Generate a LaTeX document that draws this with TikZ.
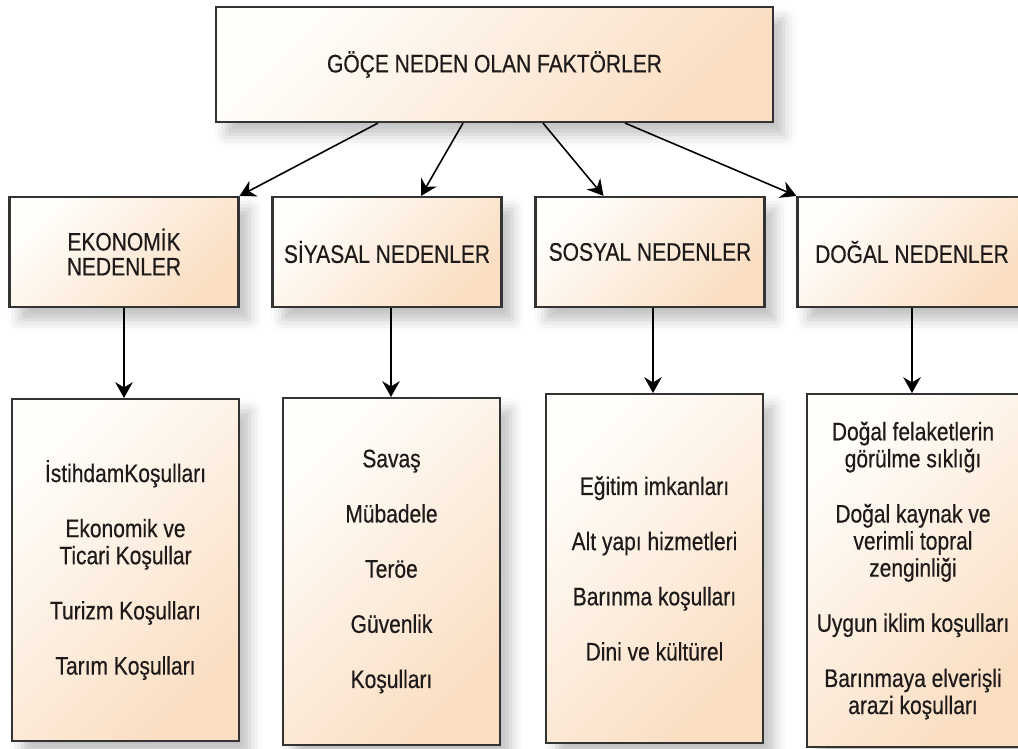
\documentclass[tikz,border=0pt]{standalone}
\usepackage{fontspec}
\setmainfont{Liberation Sans}[FakeStretch=0.83, FakeBold=0.4]
\usetikzlibrary{arrows.meta, shadows.blur}

\definecolor{boxpeach}{RGB}{250,222,194}
\definecolor{boxlight}{RGB}{255,254,251}
\definecolor{inktext}{RGB}{30,26,26}

\begin{document}
\begin{tikzpicture}[x=0.02cm, y=-0.02cm, >={Stealth[length=9pt,width=10pt,inset=3pt]}, line width=0.9pt,
  box/.style={draw=black!80, line width=1.2pt, left color=boxlight, right color=boxpeach, shading angle=45,
    text=inktext, align=center, font=\fontsize{14.4}{15.4}\selectfont,
    blur shadow={shadow xshift=6pt, shadow yshift=-7pt, shadow blur radius=7pt, shadow opacity=25}},
  cause/.style={box, minimum width=4.58cm, minimum height=2.2cm}]

% Page frame
\useasboundingbox (0,0) rectangle (1018,749);

% Top box
\node[box, minimum width=11.14cm, minimum height=2.3cm] (top) at (494.5,64.5) {GÖÇE NEDEN OLAN FAKTÖRLER};

% Four groups of causes
\node[cause, font=\fontsize{14.4}{14.2}\selectfont] (eko) at (124,252) {EKONOMİK\\NEDENLER};
\node[cause] (siy) at (387,252) {SİYASAL NEDENLER};
\node[cause] (sos) at (650,252) {SOSYAL NEDENLER};
\node[cause] (dog) at (912,252) {DOĞAL NEDENLER};

% Lists under each group
\node[box, minimum width=4.54cm, minimum height=6.84cm] (ekolist) at (125.5,570)
  {İstihdamKoşulları\\[16pt] Ekonomik ve\\Ticari Koşullar\\[16pt] Turizm Koşulları\\[16pt] Tarım Koşulları};
\node[box, minimum width=4.34cm, minimum height=6.94cm] (siylist) at (391.5,571.5)
  {Savaş\\[16pt] Mübadele\\[16pt] Teröe\\[16pt] Güvenlik\\[16pt] Koşulları};
\node[box, minimum width=4.34cm, minimum height=6.98cm] (soslist) at (654.5,568.5)
  {Eğitim imkanları\\[16pt] Alt yapı hizmetleri\\[16pt] Barınma koşulları\\[16pt] Dini ve kültürel};
\node[box, minimum width=4.24cm, minimum height=7.06cm] (doglist) at (913,570.5)
  {Doğal felaketlerin\\görülme sıklığı\\[16pt] Doğal kaynak ve\\verimli topral\\zenginliği\\[16pt] Uygun iklim koşulları\\[16pt] Barınmaya elverişli\\arazi koşulları};

% Arrows from the top box
\draw[->] ([xshift=-2.33cm]top.south) -- (eko.north east);
\draw[->] ([xshift=-0.63cm]top.south) -- ([xshift=0.68cm]siy.north);
\draw[->] ([xshift=0.97cm]top.south) -- ([xshift=-0.93cm]sos.north);
\draw[->] ([xshift=2.61cm]top.south) -- (dog.north west);

% Arrows down to the lists
\draw[->] (eko.south) -- (eko.south |- ekolist.north);
\draw[->] ([xshift=0.08cm]siy.south) -- ([xshift=0.08cm]siy.south |- siylist.north);
\draw[->] ([xshift=0.06cm]sos.south) -- ([xshift=0.06cm]sos.south |- soslist.north);
\draw[->] (dog.south) -- (dog.south |- doglist.north);

\end{tikzpicture}
\end{document}
